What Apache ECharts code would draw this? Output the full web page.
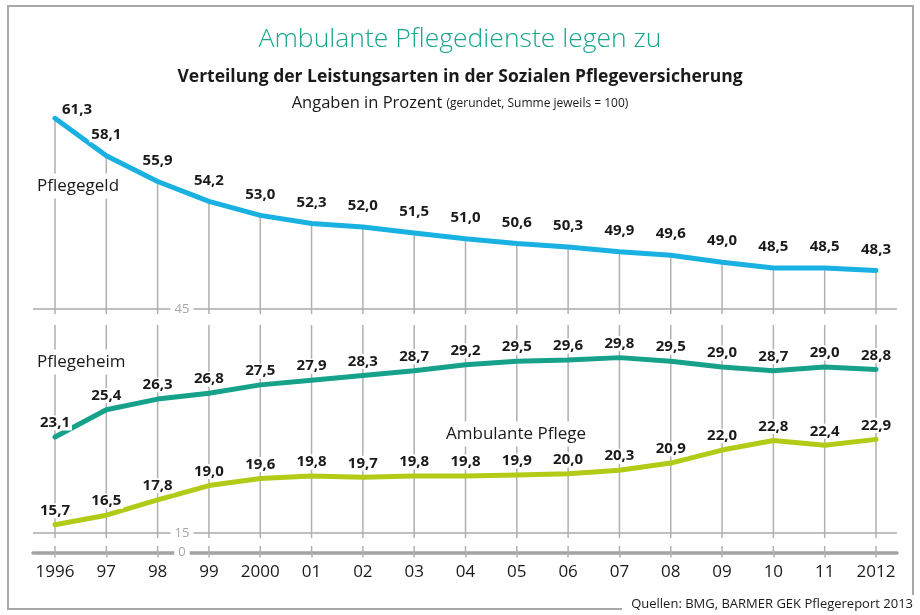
<!DOCTYPE html>
<html>
<head>
<meta charset="utf-8">
<script src="https://cdn.jsdelivr.net/npm/echarts@6/dist/echarts.min.js"></script>
<style>html,body{margin:0;padding:0;background:#fff}#c{width:920px;height:615px}</style>
</head>
<body>
<div id="c"></div>
<script>
const years = [1996,1997,1998,1999,2000,2001,2002,2003,2004,2005,2006,2007,2008,2009,2010,2011,2012];
const tickLabels = ['1996','97','98','99','2000','01','02','03','04','05','06','07','08','09','10','11','2012'];
const pflegegeld = [61.3,58.1,55.9,54.2,53.0,52.3,52.0,51.5,51.0,50.6,50.3,49.9,49.6,49.0,48.5,48.5,48.3];
const pflegeheim = [23.1,25.4,26.3,26.8,27.5,27.9,28.3,28.7,29.2,29.5,29.6,29.8,29.5,29.0,28.7,29.0,28.8];
const ambulant  = [15.7,16.5,17.8,19.0,19.6,19.8,19.7,19.8,19.8,19.9,20.0,20.3,20.9,22.0,22.8,22.4,22.9];
const seriesNames = ['Pflegegeld','Pflegeheim','Ambulante Pflege'];
const topTicks = [45];
const bottomTicks = [15];
const zeroTicks = [0];

const FONT = '"Open Sans", "Noto Sans", sans-serif';
const GRAY = '#b0b0b0';
const X_MIN = 1995.5713, X_MAX = 2012.4093;
const Y1 = [44.573, 62.863];
const Y2 = [14.578, 32.553];
const Y3 = [0, 1];

const pair = arr => years.map((y, i) => [y, arr[i]]);
const fmt = p => p.value[1].toFixed(1).replace('.', ',');

function vline(lowFn, highFn) {
  return function (params, api) {
    const x = api.value(0);
    const a = api.coord([x, highFn(api)]);
    const b = api.coord([x, lowFn(api)]);
    return { type: 'line', shape: { x1: a[0], y1: a[1], x2: b[0], y2: b[1] },
      style: { stroke: GRAY, lineWidth: 1.5 } };
  };
}

function xAx(gi, show) {
  return {
    type: 'value', gridIndex: gi, min: X_MIN, max: X_MAX,
    axisLine: show ? { show: true, lineStyle: { color: '#a3a3a3', width: 3.5 } } : { show: false },
    axisTick: show ? { show: true, length: 5, customValues: years, lineStyle: { color: GRAY, width: 1.5 } } : { show: false },
    axisLabel: show ? { show: true, customValues: years, margin: 11, fontSize: 17, color: '#1a1a1a', fontFamily: FONT,
      formatter: v => tickLabels[years.indexOf(Math.round(v))] } : { show: false },
    splitLine: { show: false }
  };
}
function yAx(gi, ext, ticks, split) {
  return {
    type: 'value', gridIndex: gi, min: ext[0], max: ext[1], offset: -149,
    axisLine: { show: false },
    axisTick: { show: false, customValues: ticks },
    axisLabel: { show: true, customValues: ticks, margin: 0, align: 'center', fontSize: 13, color: '#a8a8a8',
      fontFamily: FONT, backgroundColor: '#fff', padding: [0, 4] },
    splitLine: { show: split, lineStyle: { color: '#aaaaaa', width: 1.5 } }
  };
}

function lineSeries(name, data, xi, color, dist) {
  return {
    name: name, type: 'line', xAxisIndex: xi, yAxisIndex: xi, data: data,
    symbol: 'circle', symbolSize: 1, itemStyle: { color: color },
    lineStyle: { color: color, width: 5, cap: 'round', join: 'round' },
    z: 5,
    label: { show: true, position: 'top', distance: dist, formatter: fmt, fontSize: 15, fontWeight: 'bold',
      color: '#1a1a1a', fontFamily: FONT, backgroundColor: '#fff', padding: [0, 2] }
  };
}

const gData = pair(pflegegeld);
gData[0] = { value: gData[0], label: { offset: [22, 12] } };

const option = {
  backgroundColor: '#fff',
  animation: false,
  title: [
    { text: 'Ambulante Pflegedienste legen zu', left: 'center', top: 21,
      textStyle: { fontSize: 26.5, fontWeight: 300, color: '#1aa58f', fontFamily: FONT } },
    { text: 'Verteilung der Leistungsarten in der Sozialen Pflegeversicherung', left: 'center', top: 63,
      textStyle: { fontSize: 17.5, fontWeight: 'bold', color: '#1a1a1a', fontFamily: FONT } },
    { text: 'Angaben in Prozent {s|(gerundet, Summe jeweils = 100)}', left: 'center', top: 90,
      textStyle: { fontSize: 16.5, fontWeight: 'normal', color: '#1a1a1a', fontFamily: FONT,
        rich: { s: { fontSize: 12, color: '#1a1a1a', fontFamily: FONT } } } }
  ],
  grid: [
    { left: 33, right: 23, top: 100, height: 214, outerBoundsMode: 'none' },
    { left: 33, right: 23, top: 325, height: 213, outerBoundsMode: 'none' },
    { left: 33, right: 23, top: 546, height: 6.5, outerBoundsMode: 'none' }
  ],
  xAxis: [xAx(0, false), xAx(1, false), xAx(2, true)],
  yAxis: [yAx(0, Y1, topTicks, true), yAx(1, Y2, bottomTicks, true), yAx(2, Y3, zeroTicks, false)],
  series: [
    { type: 'custom', xAxisIndex: 0, yAxisIndex: 0, data: pair(pflegegeld), z: 1, silent: true,
      renderItem: vline(() => Y1[0], api => api.value(1)) },
    { type: 'custom', xAxisIndex: 1, yAxisIndex: 1, data: pair(pflegeheim), z: 1, silent: true,
      renderItem: vline(() => Y2[0], () => Y2[1]) },
    { type: 'custom', xAxisIndex: 2, yAxisIndex: 2, data: pair(ambulant), z: 1, silent: true,
      renderItem: vline(() => Y3[0], () => Y3[1]) },
    lineSeries(seriesNames[0], gData, 0, '#19b1e1', 13),
    lineSeries(seriesNames[1], pair(pflegeheim), 1, '#16a18b', 6),
    lineSeries(seriesNames[2], pair(ambulant), 1, '#b3ca17', 6)
  ],
  graphic: [
    { type: 'polyline', z: 0, shape: { points: [[622, 609], [8, 609], [8, 6], [913, 6], [913, 595]] },
      style: { stroke: '#a8a8a8', lineWidth: 2, fill: null } },
    { type: 'text', x: 35, y: 186, z: 50, style: { text: seriesNames[0], fontSize: 17, fontFamily: FONT, fill: '#1a1a1a',
      verticalAlign: 'middle', backgroundColor: '#fff', padding: [4, 2] } },
    { type: 'text', x: 35, y: 362, z: 50, style: { text: seriesNames[1], fontSize: 17, fontFamily: FONT, fill: '#1a1a1a',
      verticalAlign: 'middle', backgroundColor: '#fff', padding: [4, 2] } },
    { type: 'text', x: 444, y: 434, z: 50, style: { text: seriesNames[2], fontSize: 17, fontFamily: FONT, fill: '#1a1a1a',
      verticalAlign: 'middle', backgroundColor: '#fff', padding: [4, 2] } },
    { type: 'text', x: 913, y: 604, z: 50, style: { text: 'Quellen: BMG, BARMER GEK Pflegereport 2013', fontSize: 13,
      fontFamily: FONT, fill: '#1a1a1a', align: 'right', verticalAlign: 'middle', backgroundColor: '#fff', padding: [0, 0, 0, 5] } }
  ]
};
echarts.init(document.getElementById('c')).setOption(option);
</script>
</body>
</html>
